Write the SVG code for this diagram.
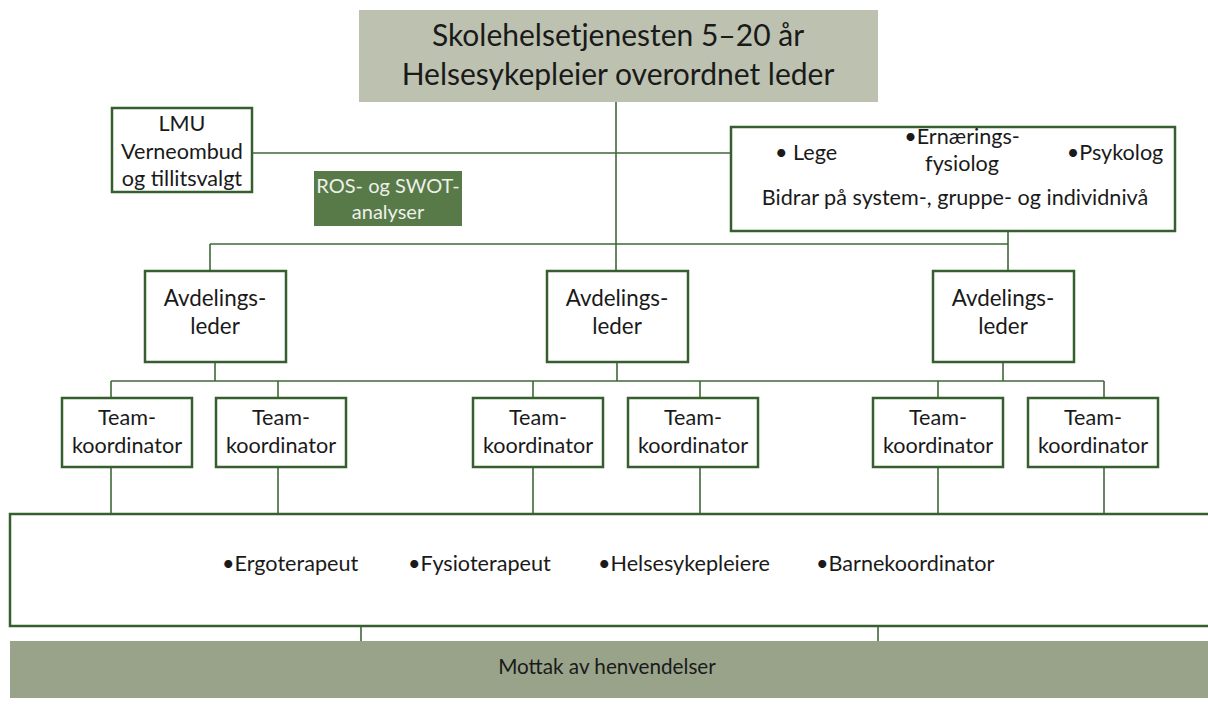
<svg xmlns="http://www.w3.org/2000/svg" width="1208" height="720" viewBox="0 0 1208 720">
<style>
text{font-family:Lato,"Open Sans","Liberation Sans",sans-serif;fill:#1a1a1a;text-anchor:middle}
.box{fill:#fff;stroke:#355f2e;stroke-width:2.5}
.ln{stroke:#3f6a38;stroke-width:1.6;fill:none}
.t20{font-size:22.4px}
.t19{font-size:21.6px}
</style>
<rect width="1208" height="720" fill="#fff"/>
<g id="connectors" class="ln">
<path d="M616 102V244M252 153H731M210 244H1008M1008 231V270M210 244V271M1008 244V271M616 244V271"/>
<path d="M215 362V381M617 362V381M1003 362V381M111 381H1104M111 381V398M278 381V398M533 381V398M700 381V398M938 381V398M1104 381V398"/>
<path d="M111 467V514M278 467V514M533 467V514M700 467V514M938 467V514M1104 467V514"/>
<path d="M361 626V641M878 626V641"/>
</g>
<g id="top"><rect x="359" y="10" width="519" height="92" fill="#bdc1b0"/>
<text x="618" y="46" font-size="30">Skolehelsetjenesten 5–20 år</text>
<text x="618" y="85" font-size="30">Helsesykepleier overordnet leder</text></g>
<g id="lmu"><rect class="box" x="112" y="108" width="140" height="84"/>
<text class="t19" x="182" y="131">LMU</text>
<text class="t19" x="182" y="159">Verneombud</text>
<text class="t19" x="182" y="186">og tillitsvalgt</text></g>
<g id="ros"><rect x="314" y="171" width="148" height="55" fill="#577a48"/>
<text x="388" y="193" font-size="20" style="fill:#eef0ea">ROS- og SWOT-</text>
<text x="388" y="219" font-size="20" style="fill:#eef0ea">analyser</text></g>
<g id="support"><rect class="box" x="731" y="127" width="444" height="104"/>
<text class="t19" x="806" y="160">• Lege</text>
<text class="t19" x="962" y="144">•Ernærings-</text>
<text class="t19" x="962" y="171">fysiolog</text>
<text class="t19" x="1115" y="160">•Psykolog</text>
<text class="t19" x="955" y="205">Bidrar på system-, gruppe- og individnivå</text></g>
<g id="avd1"><rect class="box" x="145" y="271" width="141" height="91"/><text class="t20" x="215" y="306">Avdelings-</text><text class="t20" x="215" y="334">leder</text></g>
<g id="avd2"><rect class="box" x="547" y="271" width="141" height="91"/><text class="t20" x="617" y="306">Avdelings-</text><text class="t20" x="617" y="334">leder</text></g>
<g id="avd3"><rect class="box" x="933" y="271" width="141" height="91"/><text class="t20" x="1003" y="306">Avdelings-</text><text class="t20" x="1003" y="334">leder</text></g>
<g id="team1"><rect class="box" x="62" y="398" width="130" height="69"/><text class="t19" x="127" y="425">Team-</text><text class="t19" x="127" y="453">koordinator</text></g>
<g id="team2"><rect class="box" x="216" y="398" width="130" height="69"/><text class="t19" x="281" y="425">Team-</text><text class="t19" x="281" y="453">koordinator</text></g>
<g id="team3"><rect class="box" x="473" y="398" width="130" height="69"/><text class="t19" x="538" y="425">Team-</text><text class="t19" x="538" y="453">koordinator</text></g>
<g id="team4"><rect class="box" x="628" y="398" width="130" height="69"/><text class="t19" x="693" y="425">Team-</text><text class="t19" x="693" y="453">koordinator</text></g>
<g id="team5"><rect class="box" x="873" y="398" width="130" height="69"/><text class="t19" x="938" y="425">Team-</text><text class="t19" x="938" y="453">koordinator</text></g>
<g id="team6"><rect class="box" x="1028" y="398" width="130" height="69"/><text class="t19" x="1093" y="425">Team-</text><text class="t19" x="1093" y="453">koordinator</text></g>
<g id="staff"><rect class="box" x="10" y="514" width="1210" height="112"/>
<text class="t19" x="222" y="571" style="text-anchor:start">•Ergoterapeut</text>
<text class="t19" x="408" y="571" style="text-anchor:start">•Fysioterapeut</text>
<text class="t19" x="598" y="571" style="text-anchor:start">•Helsesykepleiere</text>
<text class="t19" x="816" y="571" style="text-anchor:start">•Barnekoordinator</text></g>
<g id="mottak"><rect x="10" y="641" width="1210" height="57" fill="#98a38a"/>
<text x="607" y="674" font-size="20.7">Mottak av henvendelser</text></g>
</svg>
